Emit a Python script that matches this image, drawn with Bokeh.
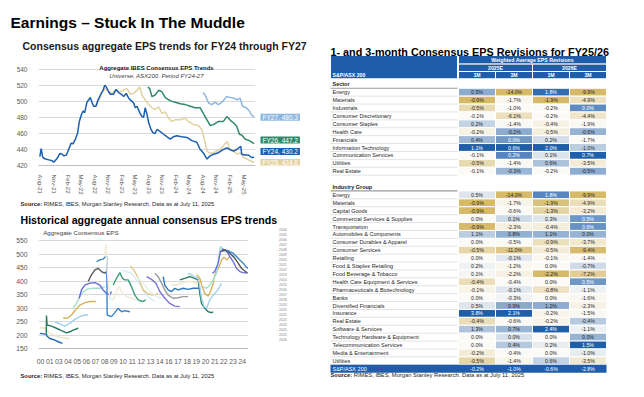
import numpy as np
from bokeh.plotting import figure
from bokeh.models import Range1d, FixedTicker, Label, Legend, LegendItem, ColumnDataSource
from bokeh.layouts import row, column
from bokeh.embed import file_html
from bokeh.resources import INLINE
from bokeh.core.properties import value

FONT = "Liberation Sans"

# ---------------- Chart 1 data (x = months since Aug-21) ----------------
month_labels = ["Aug-21", "Nov-21", "Feb-22", "May-22", "Aug-22", "Nov-22", "Feb-23", "May-23",
                "Aug-23", "Nov-23", "Feb-24", "May-24", "Aug-24", "Nov-24", "Feb-25", "May-25"]
fy24_m = [-0.15, 0.15, 0.5, 1.1, 1.85, 2.6, 2.95, 3.7, 4.3, 4.8, 5.2, 5.75, 6.3, 6.8, 7.2, 7.75, 8.25, 8.6,
          9.1, 9.45, 9.8, 10.3, 10.7, 11.05, 11.45, 11.8, 12.3, 12.75, 13.3, 13.8, 14.25, 14.6, 15.1, 15.5,
          16.2, 16.75, 17.3, 17.9, 18.45, 19.0, 19.55, 20.1, 20.65, 21.0, 21.4, 22.0, 22.5, 22.85, 23.2,
          23.6, 24.0, 24.5, 24.9, 25.4, 25.8, 26.4, 27.3, 28.0, 28.75, 29.5, 30.2, 31.3, 32.45, 33.55,
          34.65, 35.4, 35.75, 36.3, 36.9, 37.6, 38.35, 39.45, 40.55, 41.3, 42.0, 42.8, 43.5, 44.4, 44.6,
          45.35, 46.1, 46.8, 47.35]
fy24_v = [431, 441, 430, 428, 427, 426, 424, 429, 435, 434, 432, 433, 441, 448, 447, 453, 461, 475,
          484, 488, 486, 499, 502, 505, 498, 494, 494, 502, 508, 513, 520, 518, 512, 509,
          509, 515, 511, 509, 506, 510, 504, 501, 498, 492, 494, 486, 481, 480, 492,
          484, 473, 465, 461, 460, 465, 463, 459, 456, 453, 456, 457, 456, 455, 451,
          449, 440, 438, 434, 428, 432, 434, 436, 440, 442, 440, 438, 440, 444, 434,
          433, 433, 430, 430.2]
fy25_m = [12.2, 12.9, 13.65, 14.4, 15.1, 15.85, 16.6, 17.3, 18.05, 19.2, 19.9, 20.65, 21.4, 22.0, 22.5,
          23.2, 24.0, 24.7, 25.4, 26.2, 26.9, 27.65, 28.4, 29.1, 29.85, 31.0, 32.1, 32.8, 33.9, 35.0,
          35.75, 36.3, 36.9, 37.6, 38.7, 39.8, 40.9, 41.4, 42.0, 42.8, 43.65, 44.25, 45.0, 46.1, 47.2, 47.35]
fy25_v = [494, 500, 512, 516, 512, 510, 514, 512, 513, 516, 509, 510, 514, 518, 508,
          502, 496, 492, 490, 493, 485, 487, 479, 475, 477, 477, 479, 475, 471, 470,
          465, 453, 438, 435, 437, 440, 447, 450, 440, 438, 434, 436, 430, 427, 424, 424.8]
fy26_m = [23.8, 24.2, 24.7, 25.4, 26.2, 26.9, 27.65, 28.4, 29.1, 29.85, 31.0, 32.1, 33.2, 34.3, 35.4,
          36.1, 36.9, 37.6, 38.35, 39.45, 40.55, 41.3, 42.0, 42.8, 43.5, 44.1, 44.6, 45.35, 46.3, 47.35]
fy26_v = [518, 516, 506, 508, 514, 512, 505, 502, 500, 499, 497, 496, 494, 492, 492,
          485, 477, 470, 471, 475, 475, 481, 477, 473, 469, 459, 458, 453, 451, 447.2]
fy27_m = [36.0, 36.5, 37.25, 38.0, 38.7, 39.45, 40.2, 41.3, 42.0, 42.8, 43.65, 44.25, 44.8, 45.6, 46.3,
          46.8, 47.35]
fy27_v = [511, 508, 498, 496, 499, 496, 499, 506, 505, 504, 502, 504, 494, 492, 488, 483, 480.3]
fy_names = ["FY27", "FY26", "FY24", "FY25"]
fy_last = [480.3, 447.2, 430.2, 424.8]
fy_label_nudge = [0.0, 4.6, 7.3, -1.1]
fy_colors = {"FY24": "#1b5fb0", "FY25": "#e2d29f", "FY26": "#2e8a6c", "FY27": "#8db7e0"}

# ---------------- Chart 2 data (x = decimal year) ----------------
year_labels = ["00", "01", "03", "04", "05", "06", "07", "08", "09", "10", "11", "12", "13", "14",
               "16", "17", "18", "19", "20", "21", "22", "23", "24"]
y2002_x = [2000.04, 2000.5, 2000.85, 2000.9, 2001.26, 2001.87, 2002.28, 2002.8]
y2002_v = [206, 204, 203, 196, 187, 181, 175, 169]
y2003_x = [2000.04, 2000.65, 2001.06, 2001.67, 2002.28, 2002.89, 2003.7]
y2003_v = [228, 225, 212, 200, 194, 190, 185]
y2004_x = [2000.83, 2000.85, 2000.93, 2001.46, 2002.07, 2002.68, 2003.29, 2003.7, 2004.1, 2004.72]
y2004_v = [205, 272, 237, 233, 225, 216, 208, 212, 218, 225]
y2005_x = [2001.87, 2002.48, 2003.09, 2003.7, 2004.31, 2004.92, 2005.53, 2005.93]
y2005_v = [249, 241, 233, 243, 258, 268, 274, 274]
y2006_x = [2002.89, 2003.5, 2003.9, 2004.31, 2004.92, 2005.53, 2006.14, 2006.87]
y2006_v = [262, 264, 274, 290, 311, 320, 324, 324]
y2007_x = [2004.1, 2004.51, 2004.92, 2005.33, 2005.93, 2006.54, 2007.36, 2007.97]
y2007_v = [299, 317, 342, 361, 371, 373, 373, 379]
y2008_x = [2004.84, 2005.12, 2005.53, 2006.14, 2006.75, 2007.36, 2007.76, 2008.17, 2008.58, 2008.78]
y2008_v = [336, 367, 385, 392, 394, 385, 367, 354, 348, 361]
y2009_x = [2005.93, 2006.34, 2006.75, 2007.15, 2007.56, 2007.97, 2008.17, 2008.29]
y2009_v = [398, 423, 441, 447, 435, 429, 435, 420]
y2010_x = [2006.95, 2007.36, 2007.76, 2008.05, 2008.2, 2008.25, 2008.78, 2009.19, 2009.59, 2010.0,
           2010.4, 2011.02]
y2010_v = [472, 478, 481, 491, 491, 274, 268, 283, 299, 286, 290, 286]
y2011_x = [2007.97, 2008.09, 2008.25, 2008.58, 2008.98, 2009.39, 2009.72, 2010.12, 2010.61, 2011.22, 2011.83]
y2011_v = [491, 538, 441, 336, 330, 361, 379, 354, 342, 336, 330]
y2012_x = [2008.98, 2009.39, 2009.8, 2010.12, 2010.4, 2010.81, 2011.22, 2011.63, 2012.03, 2012.56, 2012.97]
y2012_v = [385, 410, 431, 410, 404, 404, 379, 348, 330, 324, 330]
y2013_x = [2010.0, 2010.61, 2011.22, 2011.83, 2012.44, 2012.85, 2013.46, 2014.07]
y2013_v = [441, 435, 429, 404, 379, 354, 336, 324]
y2014_x = [2011.1, 2011.5, 2011.83, 2012.24, 2012.64, 2013.25, 2013.86, 2014.47]
y2014_v = [456, 441, 423, 398, 367, 352, 348, 352]
y2015_x = [2011.83, 2012.64, 2013.46, 2014.27, 2014.88]
y2015_v = [416, 392, 361, 342, 336]
y2016_x = [2013.05, 2013.66, 2014.19, 2014.67, 2015.28, 2015.89, 2016.5, 2017.11]
y2016_v = [416, 406, 392, 361, 336, 317, 307, 305]
y2017_x = [2014.07, 2014.47, 2014.88, 2015.28, 2015.69, 2016.3, 2016.91, 2017.52, 2018.13]
y2017_v = [429, 416, 392, 367, 348, 336, 338, 342, 342]
y2018_x = [2015.08, 2015.28, 2015.69, 2016.1, 2016.5, 2016.91, 2017.52, 2018.13, 2018.74, 2019.55]
y2018_v = [416, 385, 367, 361, 373, 367, 373, 369, 373, 373]
y2019_x = [2016.1, 2016.71, 2017.32, 2017.93, 2018.54, 2019.15, 2019.55]
y2019_v = [385, 385, 392, 398, 398, 392, 379]
y2020_x = [2017.11, 2017.72, 2018.33, 2018.94, 2019.35, 2019.55, 2019.76, 2020.16, 2020.57, 2020.98, 2021.18]
y2020_v = [404, 410, 416, 410, 404, 354, 317, 299, 286, 283, 286]
y2021_x = [2018.13, 2018.54, 2018.94, 2019.35, 2019.55, 2019.76, 2020.08, 2020.37, 2020.77, 2021.18,
           2021.59, 2021.99, 2022.2]
y2021_v = [429, 423, 414, 410, 379, 336, 305, 299, 330, 348, 361, 379, 392]
y2022_x = [2019.15, 2019.55, 2019.84, 2020.16, 2020.57, 2020.85, 2021.18, 2021.38, 2021.59, 2021.91,
           2022.2, 2022.48, 2022.89, 2023.2]
y2022_v = [423, 410, 379, 354, 344, 361, 392, 423, 435, 453, 478, 488, 478, 491]
y2023_x = [2019.96, 2020.37, 2020.77, 2021.18, 2021.59, 2021.91, 2022.07, 2022.6, 2023.2, 2023.82]
y2023_v = [379, 373, 385, 404, 429, 500, 528, 509, 503, 488]
y2024_x = [2021.1, 2021.38, 2021.79, 2022.07, 2022.4, 2022.89, 2023.2, 2023.62, 2024.02, 2024.43,
           2024.84, 2025.24]
y2024_v = [429, 435, 466, 509, 518, 509, 491, 472, 447, 435, 431, 429]
y2025_x = [2022.2, 2022.6, 2023.01, 2023.41, 2023.82, 2024.23, 2024.63, 2025.04, 2025.37]
y2025_v = [509, 515, 509, 497, 484, 466, 447, 437, 429]
y2026_x = [2022.8, 2023.2, 2023.62, 2024.02, 2024.43, 2024.84, 2025.24, 2025.45]
y2026_v = [515, 509, 503, 491, 478, 466, 451, 447]
hist_colors = ["#2166b0", "#ece2c4", "#2a7a5e", "#9fd2f0", "#d6b35a", "#a5e0cc", "#6767df", "#595959",
               "#3a86cc", "#f1ebd9", "#3d9b75", "#d3ebf8", "#e0c583", "#e3f2ef", "#7d76d8", "#9b9b9b",
               "#2a76c0", "#efe5c9", "#2a7a5e", "#9fd2f0", "#d6b35a", "#a5e0cc", "#6a6ae3", "#555555",
               "#3a86cc"]

# ---------------- Table data ----------------
sector_names = ["Energy", "Materials", "Industrials", "Consumer Discretionary", "Consumer Staples",
                "Health Care", "Financials", "Information Technology", "Communication Services",
                "Utilities", "Real Estate"]
sector_25_1m = [0.5, -0.9, -0.5, -0.1, 0.2, -0.2, 0.4, 1.1, -0.1, -0.5, -0.1]
sector_25_3m = [-14.0, -1.7, -1.0, -6.1, -1.4, -0.2, 0.0, 0.6, 0.2, -1.4, -0.3]
sector_26_1m = [1.8, -1.9, -0.2, -0.2, -0.4, -0.5, 0.2, 2.0, 0.1, 0.6, -0.2]
sector_26_3m = [-9.9, -4.9, 0.0, -4.4, -1.9, -0.6, -1.7, -1.0, 0.7, -3.5, -0.5]
group_names = ["Energy", "Materials", "Capital Goods", "Commercial Services & Supplies", "Transportation",
               "Automobiles & Components", "Consumer Durables & Apparel", "Consumer Services", "Retailing",
               "Food & Staples Retailing", "Food Beverage & Tobacco", "Health Care Equipment & Services",
               "Pharmaceuticals & Biotechnology", "Banks", "Diversified Financials", "Insurance",
               "Real Estate", "Software & Services", "Technology Hardware & Equipment",
               "Telecommunication Services", "Media & Entertainment", "Utilities"]
group_25_1m = [0.5, -0.9, -0.9, 0.0, -0.9, 1.1, 0.0, -0.5, 0.0, 0.2, 0.1, -0.4, -0.1, 0.0, 0.5, 3.8,
               -0.4, 1.3, 0.0, 0.0, -0.2, -0.5]
group_25_3m = [-14.0, -1.7, -0.6, 0.1, -2.3, 0.8, -0.5, -11.0, -0.1, -1.2, -2.2, -0.4, -0.1, -0.3, 0.9,
               2.1, -0.6, 0.7, 0.0, 0.4, -0.4, -1.4]
group_26_1m = [1.8, -1.9, -1.3, 0.3, -0.4, 1.1, -0.9, -0.5, -0.1, 0.0, -2.2, 0.0, -0.8, 0.0, 1.2, -0.2,
               -0.2, 2.4, 0.0, 0.2, 0.0, 0.6]
group_26_3m = [-9.9, -4.9, -3.2, 0.5, 0.6, 0.0, -3.7, -9.4, -1.4, -0.7, -7.2, 0.5, -1.1, -1.6, -2.3,
               -1.5, -0.4, -1.1, 0.0, 1.5, -1.0, -3.5]
total_name = "S&P/ASX 200"
total_vals = [-0.2, -1.0, -0.6, -2.8]
col_labels = ["1M", "3M", "1M", "3M"]
year_heads = ["2025E", "2026E"]

SRC_B = "Source:"
SRC_R = "RIMES, IBES, Morgan Stanley Research. Data as at July 11, 2025"


def base_fig(w, h, xr, yr, **kw):
    p = figure(width=w, height=h, x_range=xr, y_range=yr, output_backend="svg",
               toolbar_location=None, **kw)
    p.outline_line_color = None
    p.background_fill_color = "white"
    p.border_fill_color = "white"
    return p


def strip(w, y_top, y_bot, x0=0):
    """A figure with no axes whose data coordinates equal page pixels."""
    return base_fig(w, y_bot - y_top, Range1d(x0, x0 + w), Range1d(y_bot, y_top),
                    x_axis_type=None, y_axis_type=None, min_border=0, min_border_left=0,
                    min_border_right=0, min_border_top=0, min_border_bottom=0)


def lab(p, x, y, text, size, bold=False, italic=False, color="#000000", align="left",
        baseline="middle", **kw):
    style = "bold" if bold else ("italic" if italic else "normal")
    p.add_layout(Label(x=x, y=y, text=text, text_font=FONT, text_font_size=size,
                       text_font_style=style, text_color=color, text_align=align,
                       text_baseline=baseline, **kw))


def source(p, x, y):
    lab(p, x, y, SRC_B, "5.8px", bold=True, color="#262626")
    lab(p, x + 23.3, y, SRC_R, "5.8px", color="#262626")


def style_axes(p, size):
    for ax in (p.xaxis[0], p.yaxis[0]):
        ax.major_tick_line_color = None
        ax.minor_tick_line_color = None
        ax.major_label_text_font = FONT
        ax.major_label_text_font_size = size
        ax.major_label_text_color = "#595959"
    p.yaxis.axis_line_color = None
    p.xaxis.axis_line_color = "#bfbfbf"
    p.xgrid.grid_line_color = None
    p.ygrid.grid_line_color = "#d9d9d9"


# ================= Strip 1 (page titles) =================
t1 = strip(322, 0, 58)
lab(t1, 10, 21.7, "Earnings \u2013 Stuck In The Muddle", "15.5px", bold=True, baseline="alphabetic")
lab(t1, 22, 45, "Consensus aggregate EPS trends for FY24 through FY27", "10.5px", bold=True,
    baseline="alphabetic", color="#1a1a1a")

# ================= Chart 1 =================
A_TOP, A_BOT = 58, 197                     # canvas rows of this figure
A_L, A_R, A_T, A_B = 38, 255, 60, 167      # frame in page px
ax0, ax1 = -0.443, 47.66
ay_top = 420 + (A_B - A_T) * 120 / 98.0
yrA = Range1d(420, ay_top)
pA = base_fig(257, A_BOT - A_TOP, Range1d(ax0, ax1), yrA,
              min_border_left=A_L, min_border_right=257 - A_R,
              min_border_top=A_T - A_TOP, min_border_bottom=A_BOT - A_B)
XA = lambda px: ax0 + (px - A_L) * (ax1 - ax0) / (A_R - A_L)
YA = lambda py: 420 + (A_B - py) * 120 / 98.0
style_axes(pA, "6.5px")
pA.yaxis.ticker = FixedTicker(ticks=[420, 440, 460, 480, 500, 520, 540])
pA.yaxis.major_label_standoff = 5
pA.xaxis.ticker = FixedTicker(ticks=[3 * i for i in range(len(month_labels))])
pA.xaxis.major_label_overrides = {3 * i: t for i, t in enumerate(month_labels)}
pA.xaxis.major_label_orientation = "vertical"
pA.xaxis.major_label_text_font_size = "6px"
pA.xaxis.major_label_standoff = 3

for name, xs, vs in [("FY27", fy27_m, fy27_v), ("FY26", fy26_m, fy26_v),
                     ("FY25", fy25_m, fy25_v), ("FY24", fy24_m, fy24_v)]:
    pA.line(xs, vs, line_color=fy_colors[name], line_width=1.5)

lab(pA, XA(156), YA(67.7), "Aggregate IBES Consensus EPS Trends", "6px", bold=True, align="center",
    baseline="alphabetic", color="#1a1a1a")
lab(pA, XA(156), YA(75.7), "Universe, ASX200. Period FY24-27", "6px", italic=True, align="center",
    baseline="alphabetic", color="#404040")

# end-value boxes, in a side figure sharing chart 1's value axis
pF = base_fig(65, A_BOT - A_TOP, Range1d(257, 322), yrA, x_axis_type=None, y_axis_type=None,
              min_border_left=0, min_border_right=0, min_border_top=A_T - A_TOP,
              min_border_bottom=A_BOT - A_B)
for name, v, nud in zip(fy_names, fy_last, fy_label_nudge):
    lab(pF, 260, v + nud, f"{name}, {v:.1f}", "6.5px", color="white",
        background_fill_color=fy_colors[name], padding=dict(left=2, right=2, top=0, bottom=0))

# ================= Strip 2 (source + chart 2 title) =================
t2 = strip(322, 197, 226)
source(t2, 20, 203.5)
lab(t2, 20, 219, "Historical aggregate annual consensus EPS trends", "10.6px", bold=True,
    baseline="alphabetic")

# ================= Chart 2 =================
B_TOP, B_BOT = 226, 366
B_L, B_R, B_T, B_B = 38, 248, 226, 348
bx0, bx1 = 1999.878, 2025.488
by_top = 150 + (B_B - B_T) * 400 / 108.0
pB = base_fig(B_R, B_BOT - B_TOP, Range1d(bx0, bx1), Range1d(150, by_top),
              min_border_left=B_L, min_border_right=0,
              min_border_top=B_T - B_TOP, min_border_bottom=B_BOT - B_B)
XB = lambda px: bx0 + (px - B_L) * (bx1 - bx0) / (B_R - B_L)
YB = lambda py: 150 + (B_B - py) * 400 / 108.0
style_axes(pB, "6.8px")
pB.yaxis.ticker = FixedTicker(ticks=list(range(150, 551, 50)))
pB.yaxis.major_label_standoff = 5
tick_pos = [round(2000.122 + 1.1179 * i, 3) for i in range(len(year_labels))]
pB.xaxis.ticker = FixedTicker(ticks=tick_pos)
pB.xaxis.major_label_overrides = {t: l for t, l in zip(tick_pos, year_labels)}
pB.xaxis.major_label_standoff = 4

hist = [(2002, y2002_x, y2002_v), (2003, y2003_x, y2003_v), (2004, y2004_x, y2004_v),
        (2005, y2005_x, y2005_v), (2006, y2006_x, y2006_v), (2007, y2007_x, y2007_v),
        (2008, y2008_x, y2008_v), (2009, y2009_x, y2009_v), (2010, y2010_x, y2010_v),
        (2011, y2011_x, y2011_v), (2012, y2012_x, y2012_v), (2013, y2013_x, y2013_v),
        (2014, y2014_x, y2014_v), (2015, y2015_x, y2015_v), (2016, y2016_x, y2016_v),
        (2017, y2017_x, y2017_v), (2018, y2018_x, y2018_v), (2019, y2019_x, y2019_v),
        (2020, y2020_x, y2020_v), (2021, y2021_x, y2021_v), (2022, y2022_x, y2022_v),
        (2023, y2023_x, y2023_v), (2024, y2024_x, y2024_v), (2025, y2025_x, y2025_v),
        (2026, y2026_x, y2026_v)]
for (yr, xs, vs), col in zip(hist, hist_colors):
    pB.line(xs, vs, line_color=col, line_width=1.4)
lab(pB, XB(42.7), YB(231.7), "Aggregate Consensus EPS", "6.2px", color="#404040")

# legend panel to the right of chart 2 (page-pixel coordinates)
pL = strip(322 - B_R, B_TOP, B_BOT, x0=B_R)
items = []
for (yr, xs, vs), col in zip(hist, hist_colors):
    key = pL.line(x=[], y=[], line_color=col, line_width=1.4)
    items.append(LegendItem(label=str(yr), renderers=[key]))
leg = Legend(items=items, location=(262 - B_R, B_BOT - 360), glyph_width=15, glyph_height=5,
             label_height=5, label_width=10, label_standoff=2, spacing=0, padding=0, margin=0,
             label_text_font=FONT, label_text_font_size="3.5px", label_text_line_height=1.0,
             label_text_color="#7f7f7f", border_line_color=None, background_fill_alpha=0)
pL.add_layout(leg)

# ================= Strip 3 (source) =================
t3 = strip(322, 366, 395)
source(t3, 20, 375.7)

# ================= Table =================
XC = lambda px: (px - 458) / 37.0
RC = lambda py: (py - 91.7) / 7.9
pC = base_fig(320, 395, Range1d(XC(322), XC(642)), Range1d(RC(395), RC(0)),
              x_axis_type=None, y_axis_type=None, min_border=0,
              min_border_left=0, min_border_right=0, min_border_top=0, min_border_bottom=0)

HDR = "#1f5ca9"
GOLD = np.array([214, 185, 105])
MID = np.array([251, 250, 246])
BLUE = np.array([31, 95, 170])


def mix(a, b, t):
    c = a + (b - a) * max(0.0, min(1.0, t))
    return "#%02x%02x%02x" % tuple(int(round(v)) for v in c)


def scale_colors(vals):
    v = np.array(vals, dtype=float)
    lo, med, hi = v.min(), np.median(v), v.max()
    out, dark = [], []
    for x in v:
        if x <= med:
            t = (med - x) / (med - lo) if med > lo else 0.0
            out.append(mix(MID, GOLD, t)); dark.append(False)
        else:
            t = (x - med) / (hi - med) if hi > med else 0.0
            out.append(mix(MID, BLUE, t)); dark.append(t > 0.62)
    return out, dark


cells = dict(left=[], right=[], top=[], bottom=[], color=[])
vtext = dict(x=[], y=[], text=[], color=[])
ltext = dict(x=[], y=[], text=[], color=[])
sep = dict(x0=[], x1=[], y0=[], y1=[])


def add_block(names, cols, r0):
    colored = [scale_colors(c) for c in cols]
    for i, nm in enumerate(names):
        r = r0 + i
        ltext["x"].append(XC(332)); ltext["y"].append(r); ltext["text"].append(nm)
        ltext["color"].append("#262626")
        sep["x0"].append(XC(330)); sep["x1"].append(XC(457)); sep["y0"].append(r + 0.5); sep["y1"].append(r + 0.5)
        for c, (vals, (fills, darks)) in enumerate(zip(cols, colored)):
            cells["left"].append(c); cells["right"].append(c + 1)
            cells["top"].append(r - 0.5); cells["bottom"].append(r + 0.5)
            cells["color"].append(fills[i])
            vtext["x"].append(c + 0.5); vtext["y"].append(r)
            vtext["text"].append(f"{vals[i]:.1f}%")
            vtext["color"].append("white" if darks[i] else "#262626")


add_block(sector_names, [sector_25_1m, sector_25_3m, sector_26_1m, sector_26_3m], 0)
add_block(group_names, [group_25_1m, group_25_3m, group_26_1m, group_26_3m], 13)
r_tot = 13 + len(group_names)

pC.segment(x0="x0", x1="x1", y0="y0", y1="y1", source=ColumnDataSource(sep), line_color="#e3e3e3",
           line_width=1)
pC.quad(left="left", right="right", top="top", bottom="bottom", fill_color="color",
        line_color="white", line_width=1, source=ColumnDataSource(cells))

pC.quad(left=[XC(330)], right=[4], top=[r_tot - 0.5], bottom=[r_tot + 0.5], fill_color=HDR,
        line_color=None)
for c, v in enumerate(total_vals):
    vtext["x"].append(c + 0.5); vtext["y"].append(r_tot); vtext["text"].append(f"{v:.1f}%")
    vtext["color"].append("white")
ltext["x"].append(XC(332)); ltext["y"].append(r_tot); ltext["text"].append(total_name)
ltext["color"].append("white")

h_top, h1, h2, h_bot = RC(55), RC(63.6), RC(71.0), RC(78.3)
hq = dict(left=[XC(330), 0, 0, 2, 0, 1, 2, 3], right=[XC(457), 4, 2, 4, 1, 2, 3, 4],
          top=[h_top, h_top, h1, h1, h2, h2, h2, h2], bottom=[h_bot, h1, h2, h2, h_bot, h_bot, h_bot, h_bot])
pC.quad(left="left", right="right", top="top", bottom="bottom", source=ColumnDataSource(hq),
        fill_color=HDR, line_color="white", line_width=1)
htext = dict(x=[XC(332), 2.0, 1.0, 3.0, 0.5, 1.5, 2.5, 3.5],
             y=[(h2 + h_bot) / 2, (h_top + h1) / 2, (h1 + h2) / 2, (h1 + h2) / 2] + [(h2 + h_bot) / 2] * 4,
             text=[total_name, "Weighted Average EPS Revisions"] + year_heads + col_labels,
             align=["left", "center", "center", "center", "center", "center", "center", "center"])
pC.text(x="x", y="y", text="text", text_align="align", source=ColumnDataSource(htext),
        text_baseline="middle", text_font=value(FONT), text_font_size="5.2px", text_color="white",
        text_font_style="bold")

for nm, r in [("Sector", -1), ("Industry Group", 12)]:
    lab(pC, XC(332), r, nm, "5.5px", bold=True, color="#1a1a1a")
    pC.segment(x0=[XC(330)], x1=[XC(457)], y0=[r + 0.5], y1=[r + 0.5], line_color="#9a9a9a", line_width=1.2)

pC.text(x="x", y="y", text="text", text_color="color", source=ColumnDataSource(ltext),
        text_align="left", text_baseline="middle", text_font=value(FONT), text_font_size="5.5px")
pC.text(x="x", y="y", text="text", text_color="color", source=ColumnDataSource(vtext),
        text_align="center", text_baseline="middle", text_font=value(FONT), text_font_size="5.2px")

lab(pC, XC(330), RC(51), "1- and 3-month Consensus EPS Revisions for FY25/26", "10.8px", bold=True,
    baseline="alphabetic")
lab(pC, XC(330), RC(374.5), SRC_B, "5.8px", bold=True, color="#262626")
lab(pC, XC(353.3), RC(374.5), SRC_R, "5.8px", color="#262626")

left = column(t1, row(pA, pF, spacing=0), t2, row(pB, pL, spacing=0), t3, spacing=0)
layout = row(left, pC, spacing=0)
open("out.html", "w").write(file_html(layout, INLINE))
